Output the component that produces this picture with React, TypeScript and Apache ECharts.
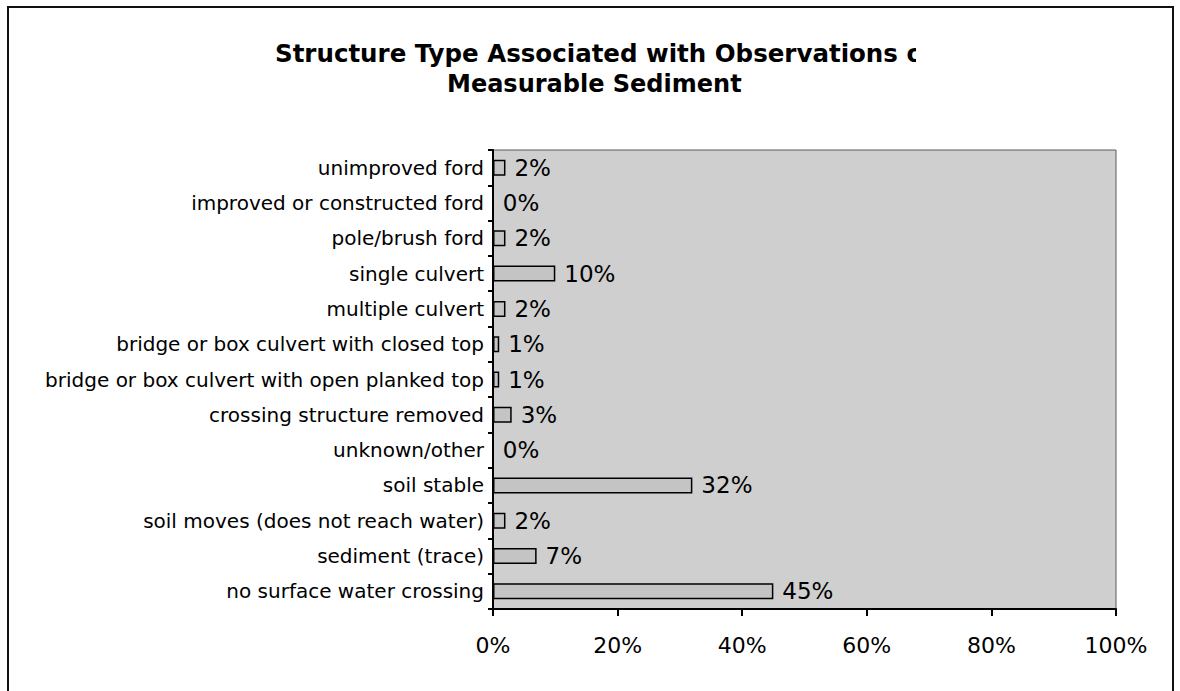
import React, { useEffect, useRef } from "react";
import * as echarts from "echarts";

// Structure types, listed top to bottom as they appear on the chart
const categories = [
  "unimproved ford",
  "improved or constructed ford",
  "pole/brush ford",
  "single culvert",
  "multiple culvert",
  "bridge or box culvert with closed top",
  "bridge or box culvert with open planked top",
  "crossing structure removed",
  "unknown/other",
  "soil stable",
  "soil moves (does not reach water)",
  "sediment (trace)",
  "no surface water crossing",
];

// Share of observations (%)
const shares = [2, 0, 2, 10, 2, 1, 1, 3, 0, 32, 2, 7, 45];

const xTicks = [0, 20, 40, 60, 80, 100];

const titleLine1 = "Structure Type Associated with Observations of";
const titleLine2 = "Measurable Sediment";

export default function App() {
  const ref = useRef<HTMLDivElement>(null);

  useEffect(() => {
    document.body.style.margin = "0";
    const chart = echarts.init(ref.current!, null, { renderer: "svg" });
    const font = "DejaVu Sans";
    chart.setOption({
      animation: false,
      backgroundColor: "#ffffff",
      textStyle: { fontFamily: font, color: "#000" },
      graphic: [
        {
          type: "rect",
          shape: { x: 8, y: 7, width: 1165, height: 700 },
          style: { fill: "none", stroke: "#111", lineWidth: 2 },
          z: 10,
        },
        {
          type: "text",
          x: 275,
          y: 53,
          style: {
            text: titleLine1,
            font: `bold 24.5px "${font}"`,
            fill: "#000",
            align: "left",
            verticalAlign: "middle",
          },
          z: 10,
        },
        {
          // the first title line runs past its box and is cut off here
          type: "rect",
          shape: { x: 916, y: 30, width: 240, height: 40 },
          style: { fill: "#ffffff" },
          z: 20,
        },
        {
          type: "text",
          x: 447,
          y: 84,
          style: {
            text: titleLine2,
            font: `bold 24px "${font}"`,
            fill: "#000",
            align: "left",
            verticalAlign: "middle",
          },
          z: 10,
        },
      ],
      grid: {
        left: 493,
        right: 64,
        top: 150,
        bottom: 82,
        show: true,
        backgroundColor: "#cfcfcf",
        borderColor: "#5a5a5a",
        borderWidth: 1,
      },
      xAxis: {
        type: "value",
        min: 0,
        max: 100,
        interval: 20,
        axisLine: { show: true, lineStyle: { color: "#000", width: 2 } },
        axisTick: { show: true, length: 7, lineStyle: { color: "#000", width: 2 } },
        axisLabel: {
          fontFamily: font,
          fontSize: 22,
          color: "#000",
          margin: 25,
          formatter: (v: number) => (xTicks.includes(v) ? `${v}%` : ""),
        },
        splitLine: { show: false },
      },
      yAxis: {
        type: "category",
        inverse: true,
        data: categories,
        axisLine: { show: true, lineStyle: { color: "#000", width: 2 } },
        axisTick: { show: true, length: 5, lineStyle: { color: "#000", width: 2 } },
        axisLabel: {
          fontFamily: font,
          fontSize: 20,
          color: "#000",
          margin: 9,
        },
      },
      series: [
        {
          type: "bar",
          data: shares,
          barWidth: 16,
          itemStyle: {
            color: "#c4c4c4",
            borderColor: "#000",
            borderWidth: 1.5,
          },
          label: {
            show: true,
            position: "right",
            distance: 9,
            fontFamily: font,
            fontSize: 23,
            color: "#000",
            formatter: (p: any) => `${p.value}%`,
          },
        },
      ],
    });
    return () => chart.dispose();
  }, []);

  return (
    <div
      ref={ref}
      style={{ position: "fixed", left: 0, top: 0, width: 1180, height: 691 }}
    />
  );
}
